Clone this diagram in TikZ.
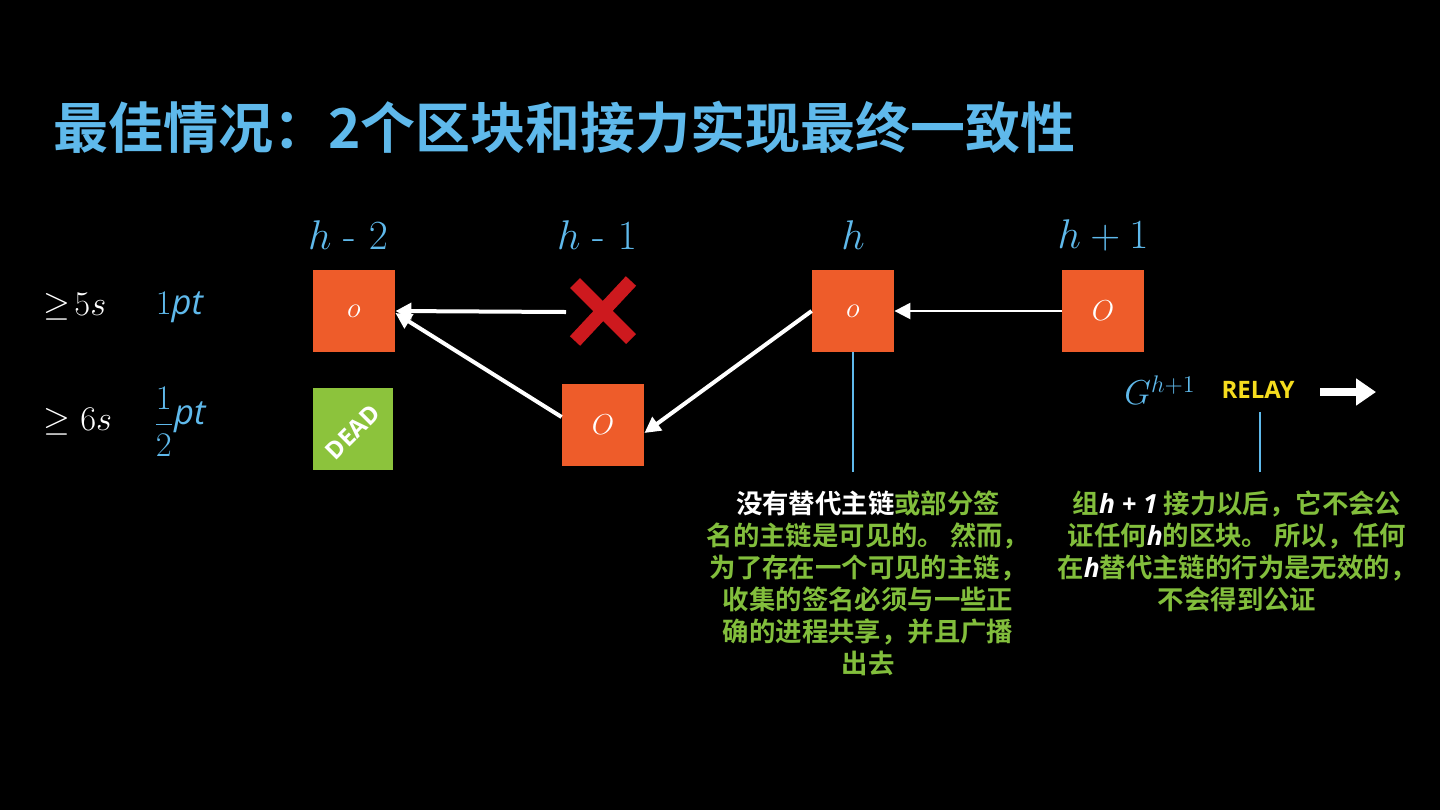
\documentclass[tikz,border=0pt]{standalone}
\usepackage{amsmath}
\usepackage{amssymb}
\usepackage{fontspec}
\newfontfamily\cjk{Noto Sans CJK SC}[BoldFont={Noto Sans CJK SC Bold}]
\setsansfont{Open Sans}
\usetikzlibrary{calc}
\usetikzlibrary{arrows.meta}
\definecolor{skyblue}{RGB}{95,185,235}
\definecolor{blockorange}{RGB}{238,92,42}
\definecolor{deadgreen}{RGB}{140,195,60}
\definecolor{notegreen}{RGB}{130,190,60}
\definecolor{relayyellow}{RGB}{245,220,30}
\definecolor{crossred}{RGB}{205,25,30}
\tikzset{
  block/.style={fill=blockorange, minimum width=41pt, minimum height=41pt, inner sep=0pt, text=white, font=\Large},
  height/.style={text=skyblue, font=\huge},
  link/.style={draw=white, line width=2pt, -{Triangle[length=8pt,width=8pt]}},
  note/.style={text=notegreen, font=\cjk\bfseries\fontsize{13.2}{16}\selectfont, align=center},
}
\begin{document}
\begin{tikzpicture}[x=0.5pt, y=-0.5pt]
\fill [black] (0,0) rectangle (1440,810);

% title
\node [anchor=west, text=skyblue, font=\cjk\bfseries\fontsize{27.5}{32}\selectfont] (title) at (46,127) {最佳情况：2个区块和接力实现最终一致性};

% heights
\node [height] (lab2) at (348,235) {$h$ - $2$};
\node [height] (lab1) at (597,235) {$h$ - $1$};
\node [height] (lab0) at (853,235) {$h$};
\node [height] (labp) at (1103,235) {$h+1$};

% timeouts
\node [text=white, font=\LARGE] (t5) at (75,307) {$\geq\!5s$};
\node [text=skyblue, font=\LARGE] (p1) at (180,307) {$1$\textsf{\itshape pt}};
\node [text=white, font=\LARGE] (t6) at (78,422) {$\geq6s$};
\node [text=skyblue, font=\LARGE] (p2) at (180,422) {$\dfrac{1}{2}$\raisebox{4pt}{\textsf{\itshape pt}}};

% blocks
\node [block] (b2) at (354,311) {$o$};
\fill [deadgreen] (313,388) rectangle (393,470);
\node [rotate=45, text=white, font=\sffamily\bfseries\large] (dead) at (353,432) {DEAD};
\node [block] (b1) at (603,425) {$O$};
\node [block] (b0) at (853,311) {$o$};
\node [block] (bp) at (1103,311) {$O$};

% missed block
\coordinate (miss) at (603,311);
\draw [crossred, line width=7pt] ($(miss)+(-28,-28)$) -- ($(miss)+(28,28)$);
\draw [crossred, line width=7pt] ($(miss)+(28,-30)$) -- ($(miss)+(-28,30)$);

% links
\draw [link] (566,312) -- (b2.east);
\draw [link] ([yshift=4pt]b1.west) -- ([yshift=-1pt]b2.east);
\draw [link] (b0.west) -- ([yshift=-4pt]b1.east);
\draw [link, line width=1.2pt] (bp.west) -- (b0.east);

% relay
\node [text=skyblue, font=\LARGE] (g) at (1160,390) {$G^{h+1}$};
\node [text=relayyellow, font=\sffamily\bfseries\large] (relay) at (1258,390) {RELAY};
\draw [white, line width=4pt, -{Triangle[length=10pt,width=13pt]}] (1320,392) -- (1376,392);

% pointers
\draw [skyblue, line width=0.6pt] (b0.south) -- (853,472);
\draw [skyblue, line width=0.6pt] (1260,412) -- (1260,472);

% notes
\node [note, anchor=north] (n1) at (868,484) {{\color{white}没有替代主链}或部分签\\名的主链是可见的。 然而，\\为了存在一个可见的主链，\\收集的签名必须与一些正\\确的进程共享，并且广播\\出去};
\node [note, anchor=north] (n2) at (1237,484) {组{\color{white}\sffamily\itshape h + 1} 接力以后，它不会公\\证任何{\color{white}\sffamily\itshape h}的区块。 所以，任何\\在{\color{white}\sffamily\itshape h}替代主链的行为是无效的，\\不会得到公证};
\end{tikzpicture}
\end{document}
